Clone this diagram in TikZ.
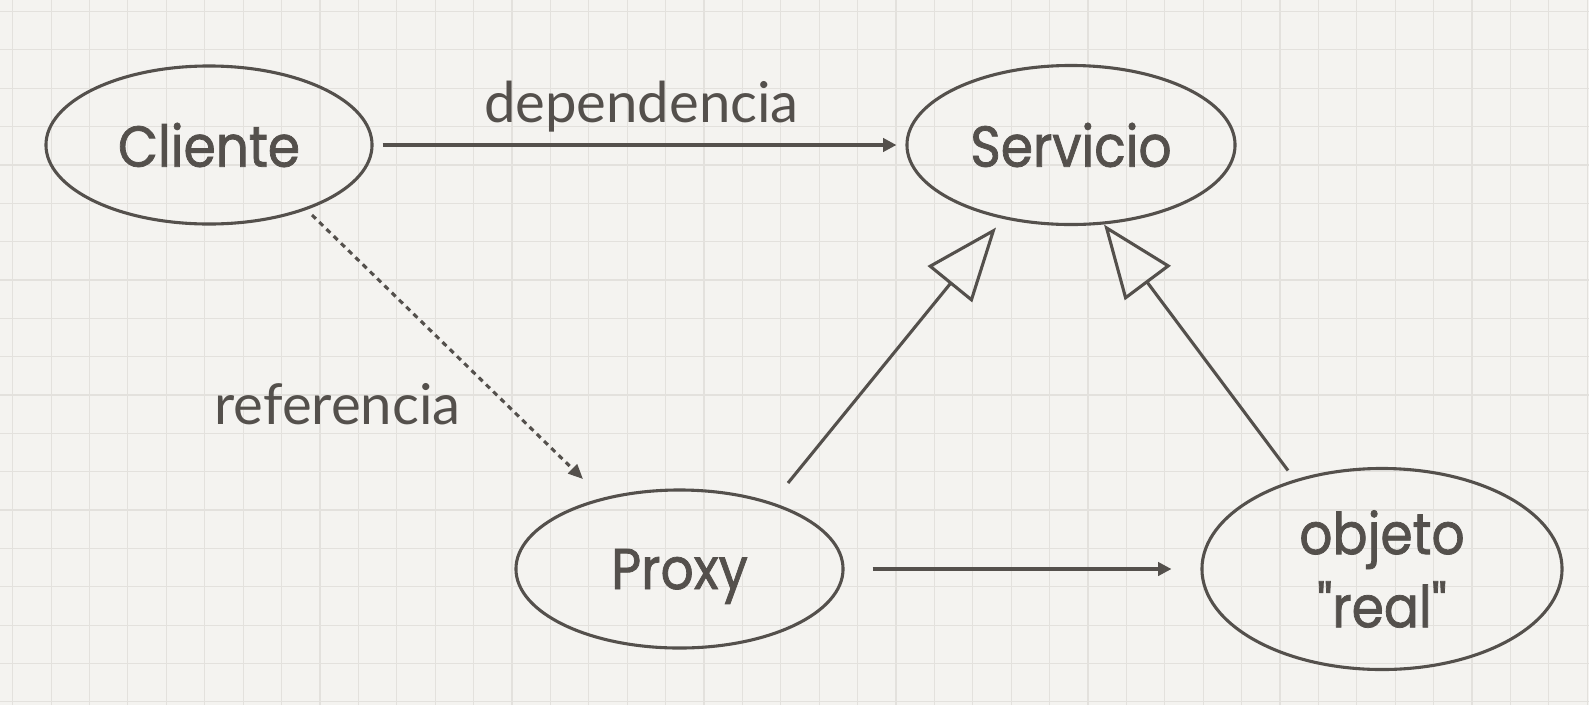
\documentclass[tikz,border=0pt]{standalone}
\usepackage{fontspec}
\usetikzlibrary{shapes.geometric,arrows.meta,calc}
\newfontfamily\nodefont{Poppins}[FakeStretch=0.9,FakeBold=1.3]
\newfontfamily\labelfont{Lato}
\definecolor{ink}{HTML}{54504C}
\definecolor{paper}{HTML}{F4F3F0}
\definecolor{gridc}{HTML}{E3E1DD}
\tikzset{
  gridline/.style={draw=gridc, line width=0.85pt},
  oval/.style={ellipse, draw=ink, line width=2.2pt, inner sep=0pt, text=ink,
    font=\nodefont\fontsize{41pt}{52pt}\selectfont, align=center},
  lbl/.style={text=ink, font=\labelfont\fontsize{40pt}{48pt}\selectfont, anchor=base, inner sep=0pt},
  arr/.style={draw=ink, line width=2.2pt, -{Triangle[length=9.5pt,width=9.5pt]}},
  dasharr/.style={draw=ink, line width=2.2pt, dash pattern=on 3.8pt off 3.4pt,
    -{Triangle[length=10.5pt,width=9pt]}},
  realiz/.style={draw=ink, line width=2.2pt, -{Triangle[open,length=52pt,width=40.5pt]}}
}
\begin{document}
\begin{tikzpicture}[x=0.025cm,y=-0.025cm]
\fill[paper] (0,0) rectangle (1589,705);
\useasboundingbox (0,0) rectangle (1589,705);
\foreach \i in {0,...,41} \draw[gridline] ({12.7+38.4*\i},0) -- ({12.7+38.4*\i},705);
\foreach \j in {0,...,18} \draw[gridline] (0,{11.5+38.35*\j}) -- (1589,{11.5+38.35*\j});

\node[oval, minimum width=8.15cm, minimum height=3.95cm] (cliente) at (209,145) {Cliente};
\node[oval, minimum width=8.2cm, minimum height=3.975cm] (servicio) at (1071,145) {Servicio};
\node[oval, minimum width=8.175cm, minimum height=3.95cm, text depth=0pt] (proxy) at (679.5,569) {Proxy};
\node[oval, minimum width=9cm, minimum height=5.025cm] (objeto) at (1382,569) {objeto\\"real"};

\draw[arr, shorten <=6.4pt, shorten >=6.4pt] (cliente.east) -- (servicio.west);
\node[lbl] (ldep) at (641.5,122) {dependencia};

\draw[dasharr] ($(cliente.center)+(103,70)$) -- ($(proxy.center)+(-96.5,-90)$);
\node[lbl] (lref) at (337.5,424) {referencia};

\draw[arr, shorten <=19.9pt, shorten >=20.6pt] (proxy.east) -- (objeto.west);

\draw[realiz] ($(proxy.center)+(108.5,-86)$) -- ($(servicio.center)+(-75,82.5)$);
\draw[realiz] ($(objeto.center)+(-94,-98.5)$) -- ($(servicio.center)+(33,79.5)$);
\end{tikzpicture}
\end{document}
